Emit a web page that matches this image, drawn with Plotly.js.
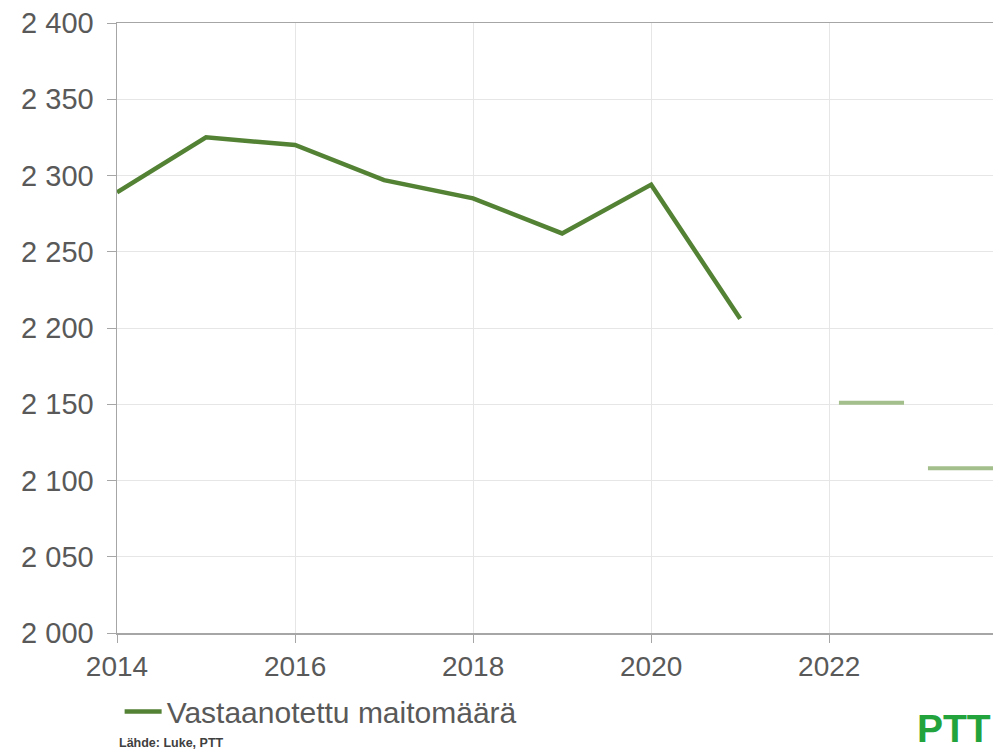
<!DOCTYPE html>
<html>
<head>
<meta charset="utf-8">
<script src="https://cdn.plot.ly/plotly-3.0.1.min.js"></script>
<style>html,body{margin:0;padding:0;background:#fff;}#chart{width:993px;height:751px;}</style>
</head>
<body>
<div id="chart"></div>
<script>
const years = [2014, 2015, 2016, 2017, 2018, 2019, 2020, 2021];
const milk = [2289, 2325, 2320, 2297, 2285, 2262, 2294, 2206];
const forecastYears = [2022, 2023];
const forecastValues = [2151, 2108];
const seriesName = 'Vastaanotettu maitomäärä';
const sourceText = 'Lähde: Luke, PTT';
const logoText = 'PTT';

const textColor = '#595959';
const traces = [
  {
    x: years, y: milk, type: 'scatter', mode: 'lines', name: seriesName,
    line: {color: '#548235', width: 4.5}
  },
  {
    x: forecastYears.map(v => v + 0.475), y: forecastValues, type: 'scatter', mode: 'markers',
    showlegend: false, hoverinfo: 'skip',
    marker: {symbol: 'line-ew', size: 46.5, line: {color: '#a3bf8b', width: 4}}
  }
];

const layout = {
  width: 993, height: 751,
  margin: {l: 117, r: 0, t: 23, b: 118},
  paper_bgcolor: '#fff', plot_bgcolor: '#fff',
  font: {family: 'Liberation Sans, Arial, sans-serif', color: textColor},
  separators: ', ',
  showlegend: true,
  legend: {
    orientation: 'h', x: 0.003, xanchor: 'left', y: -0.086, yanchor: 'top',
    font: {size: 30, color: textColor}, itemwidth: 37
  },
  xaxis: {
    range: [2014, 2023.84], dtick: 2, tick0: 2014,
    showgrid: true, gridcolor: '#e6e6e6', gridwidth: 1,
    showline: true, linecolor: '#a6a6a6', linewidth: 1.5, mirror: true,
    ticks: 'outside', ticklen: 8, tickcolor: '#a6a6a6',
    tickfont: {size: 28, color: textColor}, zeroline: false
  },
  yaxis: {
    range: [2000, 2400], dtick: 50,
    separatethousands: true,
    showgrid: true, gridcolor: '#e6e6e6', gridwidth: 1,
    showline: true, linecolor: '#a6a6a6', linewidth: 1.5,
    ticks: 'outside', ticklen: 9, tickcolor: '#a6a6a6', ticklabelstandoff: 7,
    tickfont: {size: 29, color: textColor}, zeroline: false
  },
  annotations: [
    {
      text: sourceText, xref: 'paper', yref: 'paper', x: 0.0, y: -0.18,
      xanchor: 'left', yanchor: 'middle', showarrow: false,
      font: {size: 12.5, color: '#404040', family: 'Liberation Sans, Arial, sans-serif', weight: 'bold'}
    },
    {
      text: '<b>' + logoText + '</b>', xref: 'paper', yref: 'paper', x: 1.0, y: -0.156,
      xanchor: 'right', yanchor: 'middle', showarrow: false,
      font: {size: 39, color: '#22a33c', family: 'Liberation Sans Narrow, Arial Narrow, sans-serif'}
    }
  ]
};

Plotly.newPlot('chart', traces, layout, {displayModeBar: false, staticPlot: true});
</script>
</body>
</html>
